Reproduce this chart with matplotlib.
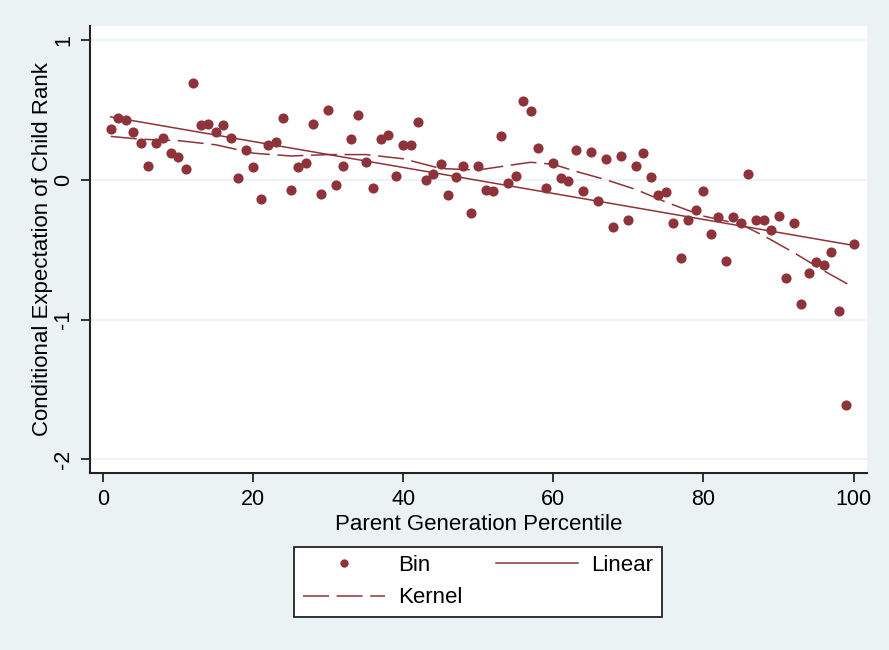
import numpy as np
import matplotlib.pyplot as plt
from matplotlib.lines import Line2D

plt.rcParams['font.family'] = ['Liberation Sans', 'DejaVu Sans']

# binned means of child rank by parent percentile
pct = list(range(1, 101))
bin_y = [0.36, 0.44, 0.43, 0.34, 0.26, 0.10, 0.26, 0.30, 0.19, 0.16,
         0.08, 0.69, 0.39, 0.40, 0.34, 0.39, 0.30, 0.01, 0.21, 0.09,
         -0.14, 0.25, 0.27, 0.44, -0.07, 0.09, 0.12, 0.40, -0.10, 0.50,
         -0.04, 0.10, 0.29, 0.46, 0.13, -0.06, 0.29, 0.32, 0.03, 0.25,
         0.25, 0.41, 0.00, 0.04, 0.11, -0.11, 0.02, 0.10, -0.24, 0.10,
         -0.07, -0.08, 0.31, -0.02, 0.03, 0.56, 0.49, 0.23, -0.06, 0.12,
         0.01, -0.01, 0.21, -0.08, 0.20, -0.15, 0.15, -0.34, 0.17, -0.29,
         0.10, 0.19, 0.02, -0.11, -0.09, -0.31, -0.56, -0.29, -0.22, -0.08,
         -0.39, -0.27, -0.58, -0.27, -0.31, 0.04, -0.29, -0.29, -0.36, -0.26,
         -0.70, -0.31, -0.89, -0.67, -0.59, -0.61, -0.52, -0.94, -1.61, -0.46]

# linear fit endpoints
lin_x = [1, 100]
lin_y = [0.45, -0.47]

# kernel smoother
ker_x = [1, 5, 10, 15, 20, 25, 30, 35, 40, 45, 50, 55, 57, 60, 63, 67,
         71, 75, 80, 85, 88, 92, 96, 100]
ker_y = [0.31, 0.29, 0.28, 0.25, 0.19, 0.17, 0.18, 0.18, 0.15, 0.08, 0.07,
         0.11, 0.125, 0.11, 0.06, 0.0, -0.07, -0.16, -0.26, -0.32, -0.40,
         -0.52, -0.65, -0.77]

red = '#8F333B'
bg = '#EAF2F3'
fs = 16

fig = plt.figure(figsize=(8.89, 6.5), dpi=100, facecolor=bg)
ax = fig.add_axes([0.1012, 0.2728, 0.8741, 0.6872])
ax.set_facecolor('white')

ax.plot(pct, bin_y, 'o', color=red, ms=7.3, mew=0, zorder=3)
ax.plot(lin_x, lin_y, '-', color=red, lw=1.1, zorder=2)
ax.plot(ker_x, ker_y, color=red, lw=1.1, dashes=(17, 5), zorder=2)

ax.set_xlim(-1.77, 101.8)
ax.set_ylim(-2.096, 1.1)
ax.set_xticks([0, 20, 40, 60, 80, 100])
ax.set_yticks([-2, -1, 0, 1])
ax.set_yticklabels(['-2', '-1', '0', '1'], rotation=90, va='center')
ax.grid(axis='y', color=bg, lw=1.2)
ax.set_axisbelow(True)

for s in ['top', 'right']:
    ax.spines[s].set_visible(False)
for s in ['left', 'bottom']:
    ax.spines[s].set_color('#222222')
    ax.spines[s].set_linewidth(1.5)
ax.tick_params(length=6.5, width=1.3, color='#222222', labelsize=fs - 0.5)
ax.tick_params(axis='x', pad=5)
ax.tick_params(axis='y', pad=5)

ax.set_xlabel('Parent Generation Percentile', fontsize=fs, labelpad=3)
ax.set_ylabel('Conditional Expectation of Child Rank', fontsize=fs, labelpad=0)

h = [Line2D([], [], ls='', marker='o', color=red, ms=6, mew=0),
     Line2D([], [], color=red, lw=1.1, dashes=(17, 5)),
     Line2D([], [], color=red, lw=1.1)]
leg = fig.legend(h, ['Bin', 'Kernel', 'Linear'], ncol=2, fontsize=fs,
                 loc='center', bbox_to_anchor=(0.5377, 0.105),
                 handlelength=3.7, handletextpad=0.6, columnspacing=1.5,
                 labelspacing=0.5, frameon=True, fancybox=False,
                 framealpha=1, borderpad=0.38)
leg.get_frame().set_edgecolor('#222222')
leg.get_frame().set_linewidth(1.3)
leg.get_frame().set_facecolor('white')

fig.savefig('out.png', dpi=100, facecolor=bg)
